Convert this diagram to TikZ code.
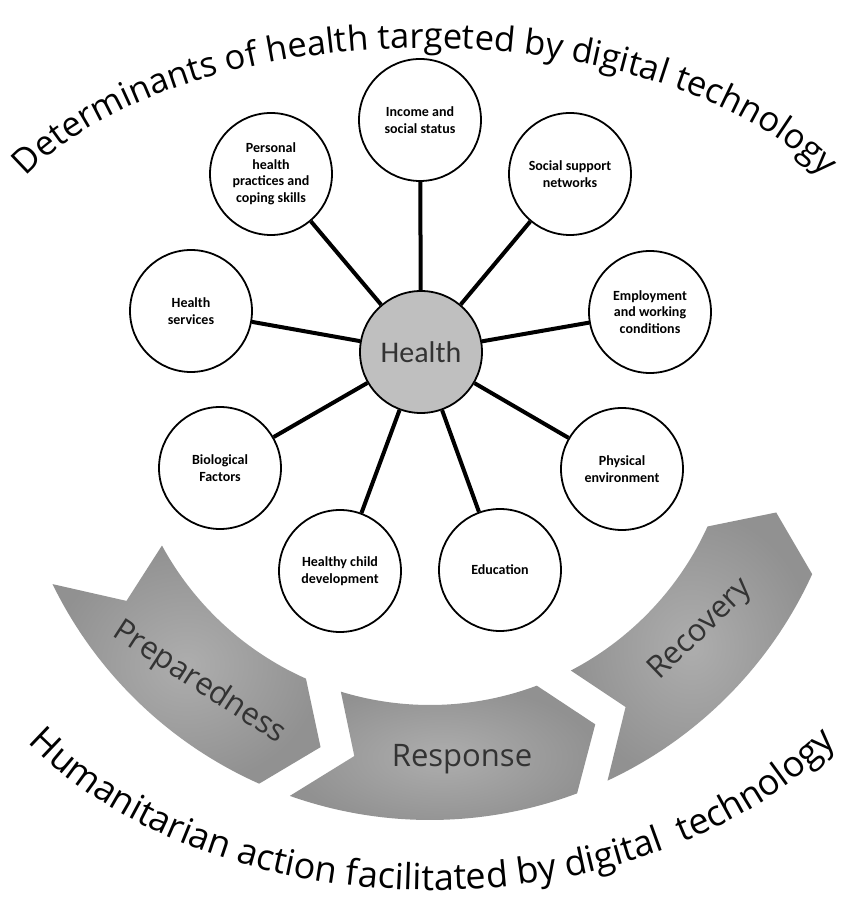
\documentclass[tikz,border=0pt]{standalone}
\usepackage{fontspec}
\setmainfont{Carlito}
\newfontfamily\arcfont{Open Sans}
\usetikzlibrary{shapes,decorations.text}
\definecolor{arrowlight}{gray}{0.68}
\definecolor{arrowdark}{gray}{0.57}
\definecolor{hubgray}{gray}{0.75}
\definecolor{labelgray}{gray}{0.2}

\begin{document}
\begin{tikzpicture}[x=1bp,y=1bp]
    \tikzstyle{factor}=[circle,draw,line width=1.8bp,fill=white,minimum size=122bp,inner sep=0pt,align=center,font=\bfseries\fontsize{14bp}{16.5bp}\selectfont]
    \tikzstyle{hub}=[factor,fill=hubgray,text=labelgray,font=\fontsize{30bp}{30bp}\selectfont]
    \tikzstyle{link}=[line width=4bp]
    \tikzstyle{phase}=[inner color=arrowlight,outer color=arrowdark]
    \tikzstyle{phaselabel}=[text=labelgray,font=\arcfont\fontsize{31bp}{31bp}\selectfont]
    \useasboundingbox (0,0) rectangle (846,904);

    % phases of humanitarian action
    \coordinate (O) at (430,504);
    \foreach \s/\e in {206/246,250.5/290.5,295/335.5}{
      \shade[phase,shift={(O)}] ({\s}:420) -- ({\s+7.5}:364) -- ({\s+2.5}:305)
        arc[start angle=\s+2.5,end angle=\e,radius=305] -- ({\e+6.5}:364) -- ({\e}:420)
        arc[start angle=\e,end angle=\s,radius=420] -- cycle;
    }
    \node[phaselabel,rotate=-33] (prep) at (199,221) {Preparedness};
    \node[phaselabel] (resp) at (462,145) {Response};
    \node[phaselabel,rotate=44] (recov) at (701,274) {Recovery};

    % determinants round health
    \node[hub] (health) at (421,552) {Health};
    \foreach \nm/\pos/\txt in {
        income/{420,784}/{Income and\\social status},
        social/{570,730}/{Social support\\networks},
        employ/{650,592}/{Employment\\and working\\conditions},
        physical/{622,435}/{Physical\\environment},
        education/{500,334}/{Education},
        child/{340,333}/{Healthy child\\development},
        bio/{220,436}/{Biological\\Factors},
        services/{191,593}/{Health\\services},
        personal/{271,730}/{Personal\\health\\practices and\\coping skills}}{
      \node[factor] (\nm) at (\pos) {\txt};
      \draw[link] (health) -- (\nm);
    }

    % arched titles
    \path[decorate,decoration={text along path,text align=center,
        text={|\arcfont\fontsize{34.5bp}{34.5bp}\selectfont|Determinants of health targeted by digital technology}}]
      (425,624) ++(160:445 and 232) arc[start angle=160,end angle=20,x radius=445,y radius=232];
    \path[decorate,decoration={text along path,text align=center,
        text={|\arcfont\fontsize{36bp}{36bp}\selectfont|Humanitarian action facilitated by digital{ } technology}}]
      (432,344) ++(208:485 and 330) arc[start angle=208,end angle=332,x radius=485,y radius=330];
\end{tikzpicture}
\end{document}
